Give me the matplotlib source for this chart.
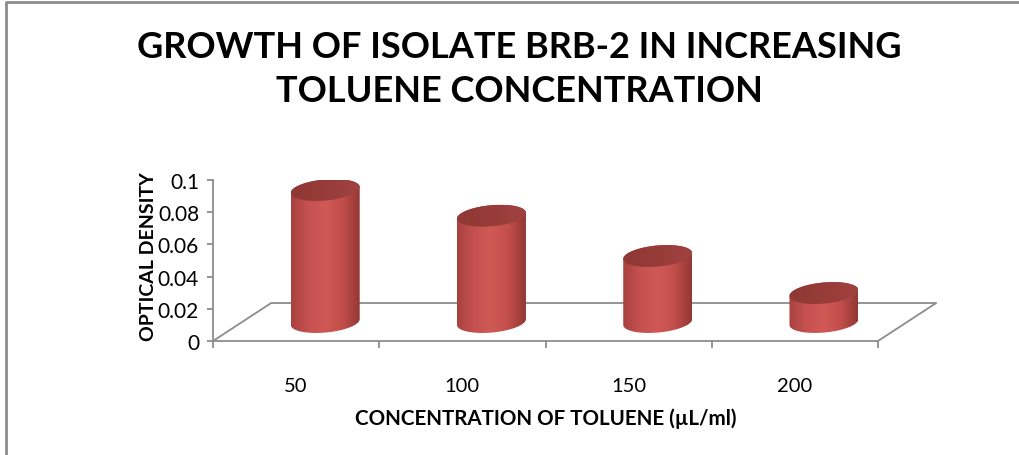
import numpy as np
import matplotlib.pyplot as plt
from matplotlib.path import Path
from matplotlib.patches import PathPatch, Polygon
from matplotlib.lines import Line2D
from matplotlib.colors import LinearSegmentedColormap

# data
categories = ['50', '100', '150', '200']
optical_density = [0.082, 0.066, 0.041, 0.018]
y_ticks = [0, 0.02, 0.04, 0.06, 0.08, 0.1]

title = 'GROWTH OF ISOLATE BRB-2 IN INCREASING\nTOLUENE CONCENTRATION'
x_label = 'CONCENTRATION OF TOLUENE (\u00b5L/ml)'
y_label = 'OPTICAL DENSITY'

plt.rcParams['font.family'] = ['Lato', 'DejaVu Sans']

GRAY = '#8c8c8c'
# oblique depth of the floor, in data units (categories, value)
DEPTH_X, DEPTH_Y = 0.35, 0.0236
# cylinder ellipse: x radius, shear, y radius
A, S, B = 0.20, 0.055, 0.0068

body_cmap = LinearSegmentedColormap.from_list(
    'cyl', ['#a8423f', '#c65150', '#d05956', '#c24e4b', '#933835'])
top_cmap = LinearSegmentedColormap.from_list(
    'top', ['#8f3835', '#973c39', '#a04240'])


def ellipse(cx, cy, t):
    return cx + A * np.cos(t) + S * np.sin(t), cy + B * np.sin(t)


def draw_cylinder(ax, i, value):
    cx = i + 0.5 + DEPTH_X / 2
    y0 = DEPTH_Y / 2
    y1 = y0 + value
    t0 = np.arctan2(S, A)
    front = np.linspace(t0 + np.pi, t0 + 2 * np.pi, 60)
    back = np.linspace(t0, t0 + np.pi, 60)
    bx, by = ellipse(cx, y0, front)
    tx, ty = ellipse(cx, y1, back)
    verts = np.column_stack([np.r_[bx, tx], np.r_[by, ty]])
    clip = PathPatch(Path(verts, closed=False), transform=ax.transData,
                     facecolor='none', edgecolor='none')
    ax.add_patch(clip)
    half = np.hypot(A, S)
    grad = np.linspace(0, 1, 200).reshape(1, -1)
    im = ax.imshow(grad, cmap=body_cmap, aspect='auto',
                   extent=(cx - half, cx + half, y0 - B * 1.2, y1 + B * 1.2),
                   zorder=3)
    im.set_clip_path(clip)

    tt = np.linspace(0, 2 * np.pi, 120)
    ex, ey = ellipse(cx, y1, tt)
    top = Polygon(np.column_stack([ex, ey]), closed=True, facecolor='none',
                  edgecolor='none')
    ax.add_patch(top)
    im2 = ax.imshow(grad, cmap=top_cmap, aspect='auto',
                    extent=(cx - half, cx + half, y1 - B, y1 + B), zorder=4)
    im2.set_clip_path(top)


fig = plt.figure(figsize=(10.19, 4.56), dpi=100)
ax = fig.add_axes([213 / 1019, 1 - 342 / 456, 665 / 1019, 161 / 456])

n = len(categories)
# floor outline
ax.add_line(Line2D([0, DEPTH_X, n + DEPTH_X, n], [0, DEPTH_Y, DEPTH_Y, 0],
                   color=GRAY, lw=1.3, clip_on=False, zorder=2))

for i, v in enumerate(optical_density):
    draw_cylinder(ax, i, v)

ax.set_xlim(0, n)
ax.set_ylim(0, 0.1)
for side in ['top', 'right']:
    ax.spines[side].set_visible(False)
for side in ['left', 'bottom']:
    ax.spines[side].set_color(GRAY)
    ax.spines[side].set_linewidth(1.3)

ax.set_yticks(y_ticks)
ax.set_yticklabels(['{:g}'.format(t) for t in y_ticks])
ax.tick_params(axis='y', direction='out', length=4, color=GRAY, width=1.3,
               labelsize=15, pad=6)
ax.set_xticks(np.arange(n + 1))
ax.set_xticklabels([])
ax.tick_params(axis='x', which='major', direction='out', length=5,
               color=GRAY, width=1.3)
ax.set_xticks(np.arange(n) + 0.5, minor=True)
ax.set_xticklabels(categories, minor=True)
ax.tick_params(axis='x', which='minor', length=0, labelsize=14.5, pad=26)

ax.set_xlabel(x_label, fontsize=14.8, fontweight='bold', va='center')
ax.xaxis.set_label_coords(0.5, (342 - 419) / 161)
ax.set_ylabel(y_label, fontsize=14, fontweight='bold', va='center')
ax.yaxis.set_label_coords((148 - 213) / 665, (342 - 257) / 161)

fig.text(519 / 1019, 1 - 69.5 / 456, title, ha='center', va='center',
         fontsize=26, fontweight='bold', linespacing=1.38)

# chart area border (cut off on the right and bottom)
fig.add_artist(Line2D([6 / 1019, 6 / 1019, 1.0], [0, 1 - 2.5 / 456, 1 - 2.5 / 456],
                      transform=fig.transFigure, color=GRAY, lw=2))

fig.savefig('out.png', dpi=100)
